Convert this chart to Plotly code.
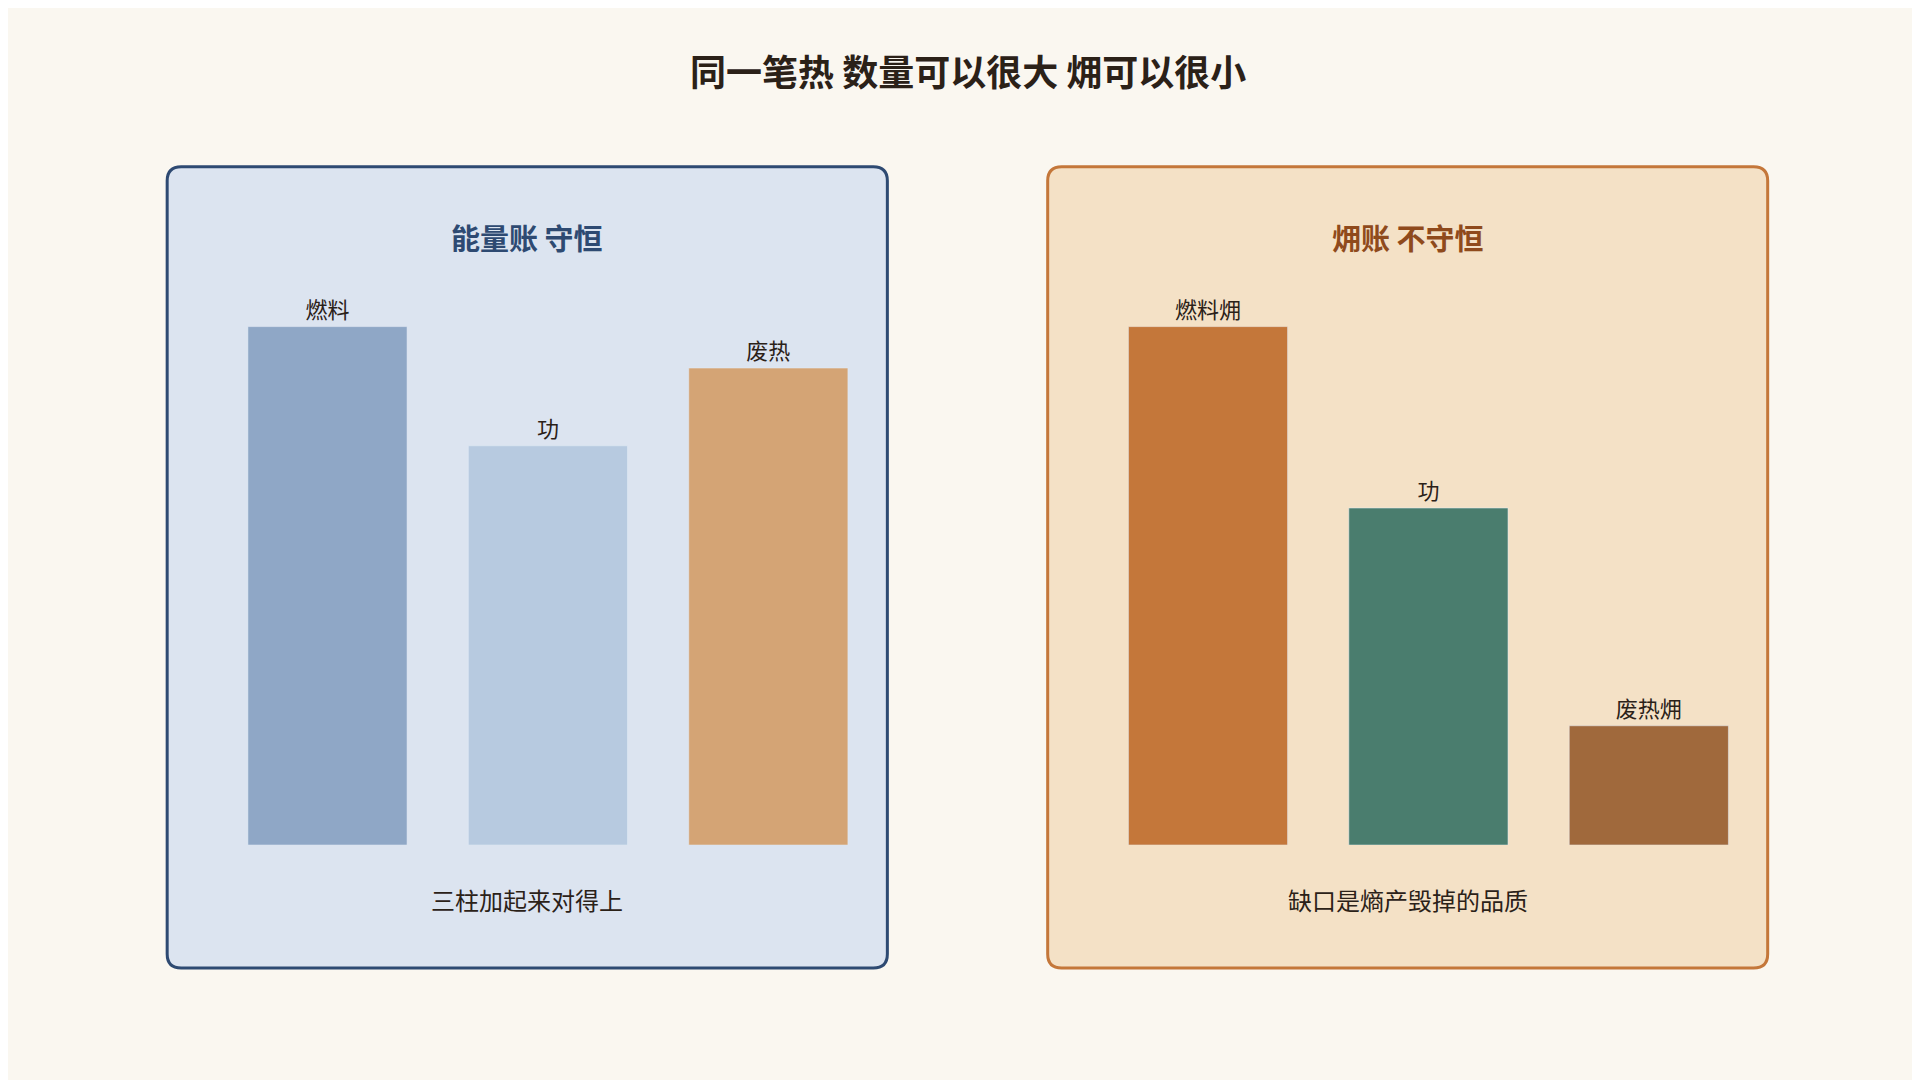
import plotly.graph_objects as go

W, H = 1920, 1080

energy_labels = ["燃料", "功", "废热"]
energy_values = [100, 77, 92]
energy_colors = ["#8FA7C6", "#B7CAE0", "#D4A475"]

exergy_labels = ["燃料㶲", "功", "废热㶲"]
exergy_values = [100, 65, 23]
exergy_colors = ["#C4773A", "#4A7D6E", "#A0693C"]

FONT = "Noto Sans CJK SC"


def rounded_box(x0, y0, x1, y1, r=14):
    rx, ry = r / W, r / H
    return (f"M{x0+rx},{y0} L{x1-rx},{y0} Q{x1},{y0} {x1},{y0+ry} "
            f"L{x1},{y1-ry} Q{x1},{y1} {x1-rx},{y1} L{x0+rx},{y1} "
            f"Q{x0},{y1} {x0},{y1-ry} L{x0},{y0+ry} Q{x0},{y0} {x0+rx},{y0} Z")


fig = go.Figure()

fig.add_trace(go.Bar(x=energy_labels, y=energy_values, marker_color=energy_colors,
                     text=energy_labels, textposition="outside", cliponaxis=False,
                     textfont=dict(size=22, color="#2B2118"),
                     xaxis="x", yaxis="y", hoverinfo="skip"))
fig.add_trace(go.Bar(x=exergy_labels, y=exergy_values, marker_color=exergy_colors,
                     text=exergy_labels, textposition="outside", cliponaxis=False,
                     textfont=dict(size=22, color="#2B2118"),
                     xaxis="x2", yaxis="y2", hoverinfo="skip"))

ax = dict(showgrid=False, zeroline=False, showticklabels=False, showline=False,
          fixedrange=True)


def note(text, x, y, size, color):
    return dict(text=text, x=x, y=y, xref="paper", yref="paper", showarrow=False,
                xanchor="center", yanchor="middle", font=dict(size=size, color=color))


fig.update_layout(
    width=W, height=H,
    margin=dict(l=0, r=0, t=0, b=0),
    paper_bgcolor="#FAF7F0", plot_bgcolor="rgba(0,0,0,0)",
    font=dict(family=FONT, color="#2B2118"),
    showlegend=False, bargap=0.278,
    xaxis=dict(ax, domain=[0.109, 0.4534], range=[-0.5, 2.5]),
    yaxis=dict(ax, domain=[0.225, 0.705], range=[0, 100]),
    xaxis2=dict(ax, domain=[0.5676, 0.912], range=[-0.5, 2.5]),
    yaxis2=dict(ax, domain=[0.225, 0.705], range=[0, 100]),
    shapes=[
        dict(type="path", xref="paper", yref="paper", layer="below",
             path=rounded_box(0.0829, 0.111, 0.458, 0.853),
             fillcolor="#DCE4F0", line=dict(color="#2E4A72", width=3)),
        dict(type="path", xref="paper", yref="paper", layer="below",
             path=rounded_box(0.5415, 0.111, 0.9165, 0.853),
             fillcolor="#F4E1C6", line=dict(color="#C4773A", width=3)),
    ],
    annotations=[
        note("<b>同一笔热 数量可以很大 㶲可以很小</b>", 0.5, 0.943, 36, "#2B2118"),
        note("<b>能量账 守恒</b>", 0.2705, 0.788, 29, "#2E4A72"),
        note("<b>㶲账 不守恒</b>", 0.729, 0.788, 29, "#8F4A1C"),
        note("三柱加起来对得上", 0.2705, 0.175, 24, "#2B2118"),
        note("缺口是熵产毁掉的品质", 0.729, 0.175, 24, "#2B2118"),
    ],
)

fig.write_html("out.html")
